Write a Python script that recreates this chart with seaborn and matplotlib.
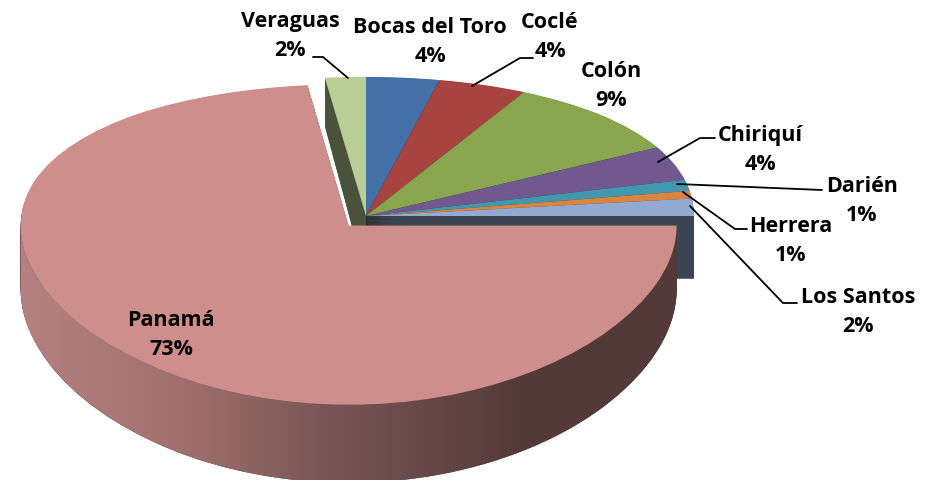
import numpy as np
import matplotlib
matplotlib.use("Agg")
import matplotlib.pyplot as plt
import matplotlib.colors as mcolors
from matplotlib.patches import Polygon
import seaborn as sns

provincias = ["Bocas del Toro", "Coclé", "Colón", "Chiriquí", "Darién",
              "Herrera", "Los Santos", "Panamá", "Veraguas"]
porcentajes = [3.6, 4.4, 9.4, 3.8, 1.2, 0.8, 1.8, 73.0, 2.0]
colores = ["#4470A8", "#A8443F", "#89A54E", "#71588F", "#4198AF",
           "#DB843D", "#93A9CF", "#CE8E8C", "#B9CD96"]

sns.set_style("white")
plt.rcParams["font.family"] = ["Open Sans", "DejaVu Sans"]

W, H = 925, 481
fig = plt.figure(figsize=(W / 100, H / 100), dpi=100)
ax = fig.add_axes([0, 0, 1, 1])

# perspectiva: y comprimido arriba, estirado abajo
A = 0.12


def fwd(y):
    y = np.asarray(y, dtype=float)
    return y - A * y * y


def inv(v):
    v = np.asarray(v, dtype=float)
    return (1 - np.sqrt(np.clip(1 - 4 * A * v, 0, None))) / (2 * A)


def oscuro(c, f=0.4):
    r, g, b = mcolors.to_rgb(c)
    return (r * f, g * f, b * f)


PROF = 0.38
idx_pan = provincias.index("Panamá")
explode = [0.08 if i == idx_pan else 0 for i in range(len(provincias))]

# paredes laterales (pilas de tortas mas oscuras)
for dz in np.linspace(PROF, 0.004, 45):
    wedges, _ = ax.pie(porcentajes, colors=[oscuro(c) for c in colores],
                       startangle=90, counterclock=False, explode=explode,
                       center=(0, -dz), radius=1, wedgeprops=dict(linewidth=0))
    for i, w in enumerate(wedges):
        w.set_zorder(3 if i == idx_pan else 1)

# cara superior
wedges, _ = ax.pie(porcentajes, colors=colores, startangle=90, counterclock=False,
                   explode=explode, radius=1, wedgeprops=dict(linewidth=0))
for i, w in enumerate(wedges):
    w.set_zorder(4 if i == idx_pan else 2)

# degradado en la pared frontal de Panamá
cx, cy = wedges[idx_pan].center
t = np.linspace(np.pi, 2 * np.pi, 200)
arriba = np.column_stack([cx + np.cos(t), cy + np.sin(t)])
abajo = np.column_stack([cx + np.cos(t[::-1]), cy + np.sin(t[::-1]) - PROF])
banda = Polygon(np.vstack([arriba, abajo]), closed=True, transform=ax.transData)
px = np.arange(W)
anclas = [0, 15, 180, 330, 520, W]
tonos = np.array([(182, 130, 129), (182, 130, 129), (160, 112, 111),
                  (120, 85, 85), (85, 58, 58), (82, 56, 56)]) / 255
grad = np.stack([np.interp(px, anclas, tonos[:, j]) for j in range(3)], axis=-1)[None]
im = ax.imshow(grad, extent=(0, 1, 0, 1), transform=ax.transAxes,
               aspect="auto", zorder=3.5, interpolation="bilinear")
im.set_clip_path(banda)

ax.set_aspect("auto")
ax.set_yscale("function", functions=(fwd, inv))
S = 158.0
ax.set_xlim(-366 / 328, (W - 366) / 328)
ax.set_ylim(float(inv(-(H - 217) / S)), float(inv(217 / S)))
ax.axis("off")

# etiquetas (posiciones en pixeles de la figura, origen arriba)
pos_etq = {"Veraguas": (290, 36), "Bocas del Toro": (430, 42), "Coclé": (550, 37),
           "Colón": (611, 86), "Chiriquí": (760, 150), "Darién": (862, 201),
           "Herrera": (791, 241), "Los Santos": (858, 312), "Panamá": (171, 335)}
lineas = {"Veraguas": [(313, 58), (323, 58), (348, 79)],
          "Coclé": [(533, 59), (520, 59), (472, 87)],
          "Chiriquí": [(715, 139), (700, 139), (658, 163)],
          "Darién": [(822, 191), (677, 185)],
          "Herrera": [(747, 230), (735, 230), (683, 193)],
          "Los Santos": [(797, 304), (783, 304), (690, 207)]}

for nombre, v in zip(provincias, porcentajes):
    x, y = pos_etq[nombre]
    fig.text(x / W, 1 - y / H, f"{nombre}\n{round(v)}%", ha="center", va="center",
             fontsize=15.5, fontweight="bold", linespacing=1.45, color="black",
             zorder=6)
    if nombre in lineas:
        pts = np.array(lineas[nombre], dtype=float)
        fig.add_artist(plt.Line2D(pts[:, 0] / W, 1 - pts[:, 1] / H,
                                  transform=fig.transFigure, color="black",
                                  lw=1.3, zorder=6))

fig.savefig("out.png", dpi=100)
